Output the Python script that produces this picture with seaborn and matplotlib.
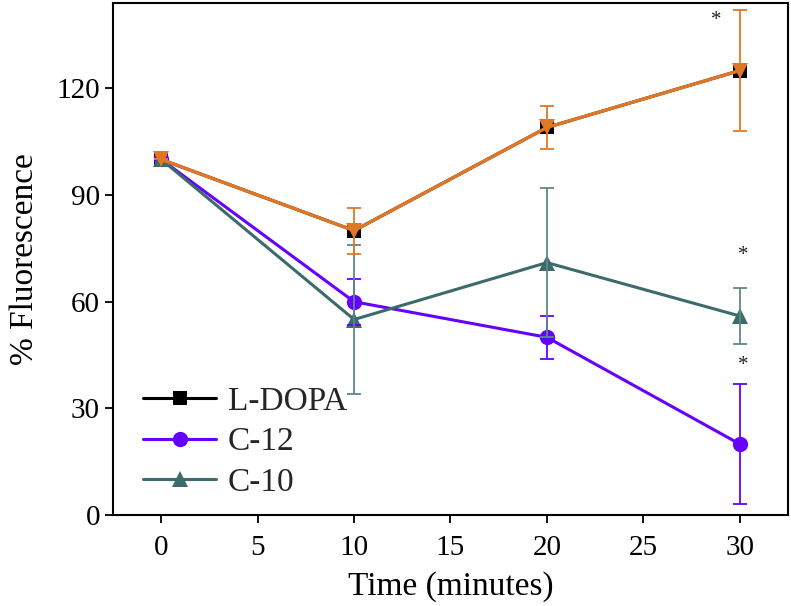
import seaborn as sns
import matplotlib.pyplot as plt
import pandas as pd
import numpy as np

# time points (minutes)
time = [0, 10, 20, 30]

# % fluorescence
ldopa = [100, 80, 109, 125]
ldopa_err = [0, 6.5, 6, 17]
c12 = [100, 60, 50, 20]
c12_err = [0, 6.5, 6, 17]
c10 = [100, 55, 71, 56]
c10_err = [0, 21, 21, 8]

# significance marks
star_x = [28.8, 30.2, 30.2]
star_y = [139, 73, 42]

black = '#000000'
purple = '#6600FF'
teal = '#3D6B6B'
orange = '#E07726'

sns.set_style("ticks")
plt.rcParams['font.family'] = ['Liberation Serif', 'DejaVu Serif']

fig = plt.figure(figsize=(7.91, 6.06), dpi=100)
ax = fig.add_axes([0.143, 0.150, 0.853, 0.845])

df = pd.DataFrame({'time': time * 3,
                   'value': ldopa + c12 + c10,
                   'series': ['L-DOPA'] * 4 + ['C-12'] * 4 + ['C-10'] * 4})

sns.lineplot(data=df[df.series == 'L-DOPA'], x='time', y='value', ax=ax,
             color=black, marker='s', markersize=10, linewidth=2.2,
             markeredgewidth=0, label='L-DOPA')
sns.lineplot(data=df[df.series == 'C-12'], x='time', y='value', ax=ax,
             color=purple, marker='o', markersize=11, linewidth=2.2,
             markeredgewidth=0, label='C-12')
sns.lineplot(data=df[df.series == 'C-10'], x='time', y='value', ax=ax,
             color=teal, marker='^', markersize=12, linewidth=2.2,
             markeredgewidth=0, label='C-10')

# error bars
ax.errorbar(time, c12, yerr=c12_err, fmt='none', ecolor=purple,
            elinewidth=1.3, capsize=5, capthick=1.3)
ax.errorbar(time, c10, yerr=c10_err, fmt='none', ecolor='#5E8888',
            elinewidth=1.3, capsize=5, capthick=1.3)
ax.errorbar(time, ldopa, yerr=ldopa_err, fmt='none', ecolor=orange,
            elinewidth=1.3, capsize=5, capthick=1.3)

# orange overlay on L-DOPA (no legend entry)
ax.plot(time, ldopa, color=orange, marker='v', markersize=12,
        markeredgewidth=0, linewidth=2.4, zorder=4)

for sx, sy in zip(star_x, star_y):
    ax.text(sx, sy, '*', fontsize=15, ha='center', va='center', color='#222222')

ax.set_xlim(-2.5, 32.5)
ax.set_ylim(0, 144)
ax.set_xticks([0, 5, 10, 15, 20, 25, 30])
ax.set_yticks([0, 30, 60, 90, 120])
ax.tick_params(axis='both', which='major', labelsize=21, direction='out',
               length=6, width=1.3, color='black', labelcolor='black')
ax.tick_params(axis='x', pad=8)
for sp in ax.spines.values():
    sp.set_visible(True)
    sp.set_linewidth(1.5)
    sp.set_color('black')

ax.set_xlabel('Time (minutes)', fontsize=24, color='black', labelpad=8)
ax.set_ylabel('% Fluorescence', fontsize=24, color='black', labelpad=12)

ax.legend(loc='lower left', bbox_to_anchor=(0.0, -0.025), frameon=False,
          fontsize=24, handlelength=2.2, handletextpad=0.35, labelspacing=0.3,
          borderaxespad=0.5)

fig.savefig('out.png', dpi=100)
